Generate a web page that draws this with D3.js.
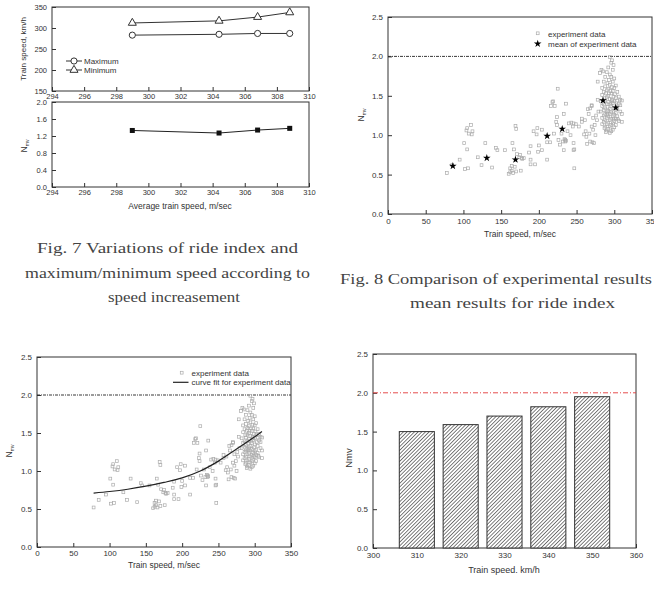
<!DOCTYPE html>
<html>
<head>
<meta charset="utf-8">
<script src="https://cdn.jsdelivr.net/npm/d3@7"></script>
<style>
  body { margin: 0; background: #fff; }
  svg { display: block; }
</style>
</head>
<body>
<script>
// Fig. 7 data
const avgSpeed = [299, 304.4, 306.8, 308.8];
const maxSpeed = [283, 285, 287, 287];
const minSpeed = [312, 317, 326, 337];
const rideIndex = [1.33, 1.27, 1.34, 1.38];

// Fig. 8 / fit chart data: [train speed m/sec, Nmv]
const expData = [
  [78,0.52],[85,0.62],[95,0.69],[101,0.90],[105,0.82],[102,0.57],[106,0.58],[105,1.09],[110,1.13],
  [107,1.02],[112,1.05],[111,1.01],[104,1.06],[119,0.72],[124,0.62],[129,0.90],[138,0.59],[143,0.84],
  [145,0.81],[155,0.81],[160,0.51],[162,0.53],[164,0.55],[166,0.52],[170,0.54],[176,0.55],[162,0.58],
  [164,0.61],[165,0.90],[167,0.82],[169,1.12],[170,1.08],[171,0.76],[177,0.71],[174,0.72],[178,0.70],
  [168,0.60],[175,0.75],[180,0.71],
  [187,0.78],[189,0.86],[189,0.69],[189,0.63],[195,0.63],[193,1.05],[197,1.01],[198,1.09],[199,0.79],
  [200,0.87],[204,1.07],[204,0.81],[211,0.69],[211,0.91],[215,0.91],[216,1.37],[219,1.43],[218,1.42],
  [220,1.02],[221,1.37],[225,1.59],[224,1.23],[224,1.13],[223,1.17],[226,0.94],[232,0.92],[234,0.95],
  [236,0.93],[233,1.27],[236,1.40],[233,0.81],[235,0.94],[240,1.15],[243,1.16],[245,1.11],
  [246,1.15],[246,0.90],[247,0.82],[247,0.58],[249,1.14],[238,1.05],[242,1.00],[230,1.02],[228,0.88],
  [246,0.81],[235,0.92],
  [253,1.11],[257,1.21],[260,1.01],[261,1.19],[257,1.17],[262,1.05],[264,0.89],[266,1.27],[268,1.34],
  [268,0.92],[270,1.37],[270,1.11],[272,1.22],[272,1.07],[273,0.90],[271,0.91],[274,1.13],[277,1.19],
  [265,1.33],[270,1.38],[263,0.98],[267,1.02],[275,1.00],[276,1.25],[278,1.68],[281,1.79],[283,1.83],
  [285,1.81],[279,1.30],[278,1.45],
  [294,1.99],[297,1.95],[299,1.89],[296,1.92],[292,1.86],[298,1.83],[290,1.80],[294,1.77],[288,1.74],
  [296,1.74],[300,1.72],[293,1.70],[286,1.68],[298,1.68],[291,1.66],[294,1.64],[302,1.63],[288,1.62],
  [297,1.61],[284,1.60],[292,1.59],[300,1.60],[290,1.57],[298,1.56],[286,1.55],[295,1.56],[304,1.55],
  [289,1.53],[296,1.53],[301,1.52],[284,1.51],[292,1.50],[306,1.49],[290,1.48],[299,1.49],[302,1.47],
  [287,1.47],[294,1.46],[288,1.44],[297,1.45],[304,1.44],[310,1.44],[282,1.43],[292,1.42],[300,1.43],
  [290,1.40],[298,1.41],[306,1.40],[286,1.39],[295,1.39],[303,1.38],[284,1.37],[291,1.36],[296,1.37],
  [300,1.35],[288,1.34],[294,1.33],[304,1.33],[286,1.32],[292,1.31],[299,1.31],[282,1.30],[290,1.29],
  [296,1.29],[302,1.28],[308,1.30],[288,1.27],[294,1.27],[300,1.26],[286,1.25],[292,1.24],[298,1.24],
  [304,1.24],[284,1.22],[290,1.22],[296,1.21],[302,1.21],[288,1.19],[294,1.19],[300,1.18],[306,1.18],
  [286,1.17],[292,1.16],[298,1.15],[284,1.14],[290,1.14],[296,1.13],[302,1.13],[288,1.11],[294,1.11],
  [300,1.10],[287,1.09],[292,1.08],[298,1.07],[290,1.06],[296,1.05],[294,1.03],[289,1.04],[305,1.20],
  [310,1.27],[308,1.38],[310,1.17],[308,1.45],[293,1.53],[297,1.43],[291,1.27],[299,1.20]
];
const meanData = [[86,0.61],[131,0.71],[169,0.69],[211,0.99],[231,1.08],[285,1.44],[302,1.35]];
const fitCurve = [[78,0.71],[100,0.73],[125,0.76],[150,0.80],[175,0.85],[200,0.91],[225,1.00],
  [250,1.13],[275,1.29],[300,1.45],[310,1.52]];

// bar chart data
const barSpeed = [310, 320, 330, 340, 350];
const barNmv = [1.50, 1.59, 1.70, 1.82, 1.95];

const limitNmv = 2.0;
const font = "'Liberation Sans', Arial, sans-serif";

const svg = d3.select("body").append("svg")
  .attr("width", 654).attr("height", 591)
  .attr("font-family", font);

svg.append("rect").attr("width", 654).attr("height", 591).attr("fill", "#fff");

const defs = svg.append("defs");
const hatch = defs.append("pattern")
  .attr("id", "hatch")
  .attr("patternUnits", "userSpaceOnUse")
  .attr("width", 2.6).attr("height", 2.6)
  .attr("patternTransform", "rotate(45)");
hatch.append("rect").attr("width", 2.6).attr("height", 2.6).attr("fill", "#fff");
hatch.append("line").attr("x1", 0).attr("y1", 0).attr("x2", 0).attr("y2", 2.6)
  .attr("stroke", "#3a3a3a").attr("stroke-width", 1.3);

// frame + inward ticks, Origin style
function axes(x, y, o) {
  const g = svg.append("g");
  const [x0, x1] = x.range();
  const [y0, y1] = y.range();

  const bx = g.append("g").attr("transform", `translate(0,${y0})`);
  bx.call(d3.axisBottom(x).tickValues(o.xMinor || []).tickSize(-2).tickFormat(""));
  bx.call(d3.axisBottom(x).tickValues(o.xMajor).tickSizeInner(-4).tickSizeOuter(0)
    .tickPadding(o.xPad || 4).tickFormat(o.xFmt || d3.format("d")));

  const ly = g.append("g").attr("transform", `translate(${x0},0)`);
  ly.call(d3.axisLeft(y).tickValues(o.yMinor || []).tickSize(-2).tickFormat(""));
  ly.call(d3.axisLeft(y).tickValues(o.yMajor).tickSizeInner(-4).tickSizeOuter(0)
    .tickPadding(o.yPad || 5).tickFormat(o.yFmt || d3.format(".1f")));

  g.selectAll(".domain").remove();
  g.selectAll(".tick line").attr("stroke", "#333");
  g.selectAll("text").attr("font-size", o.fs || 8).attr("font-family", font).attr("fill", "#333");

  g.append("rect")
    .attr("x", x0).attr("y", y1)
    .attr("width", x1 - x0).attr("height", y0 - y1)
    .attr("fill", "none").attr("stroke", "#333").attr("stroke-width", 1);
  return g;
}

function label(x, y, txt, size, rotate) {
  const t = svg.append("text")
    .attr("transform", `translate(${x},${y})` + (rotate ? " rotate(-90)" : ""))
    .attr("text-anchor", "middle")
    .attr("font-size", size).attr("fill", "#333");
  t.text(txt);
  return t;
}

function nmvLabel(x, y, size) {
  const t = svg.append("text")
    .attr("transform", `translate(${x},${y}) rotate(-90)`)
    .attr("text-anchor", "middle")
    .attr("font-size", size).attr("fill", "#333");
  t.append("tspan").text("N");
  t.append("tspan").attr("font-size", size * 0.6).attr("dy", 2).text("mv");
}

function caption(lines) {
  lines.forEach(l => {
    svg.append("text")
      .attr("x", l.x).attr("y", l.y)
      .attr("font-family", "'Liberation Serif', 'DejaVu Serif', serif")
      .attr("font-size", 15).attr("fill", "#444")
      .attr("textLength", l.w).attr("lengthAdjust", "spacingAndGlyphs")
      .text(l.t);
  });
}

function symbol(type, size) {
  return d3.symbol().type(type).size(size)();
}

// ---------- Fig. 7 top: max / min speed ----------
const x7 = d3.scaleLinear().domain([294, 310]).range([52, 309]);
const y7a = d3.scaleLinear().domain([150, 350]).range([91, 7]);
const y7b = d3.scaleLinear().domain([0, 2.0]).range([187, 102]);
const x7ticks = d3.range(294, 311, 2);

axes(x7, y7a, { xMajor: x7ticks, yMajor: [150, 200, 250, 300, 350], yMinor: [175, 225, 275, 325],
  yFmt: d3.format("d"), xPad: 3, fs: 7.5 });
axes(x7, y7b, { xMajor: x7ticks, yMajor: [0, 0.4, 0.8, 1.2, 1.6, 2.0], yMinor: [0.2, 0.6, 1.0, 1.4, 1.8],
  xPad: 3, fs: 7.5 });

const line7 = (ys, yS) => d3.line().x((d, i) => x7(avgSpeed[i])).y(d => yS(d))(ys);

svg.append("path").attr("d", line7(maxSpeed, y7a)).attr("fill", "none").attr("stroke", "#333");
svg.append("path").attr("d", line7(minSpeed, y7a)).attr("fill", "none").attr("stroke", "#333");
svg.append("g").selectAll("path").data(maxSpeed).join("path")
  .attr("transform", (d, i) => `translate(${x7(avgSpeed[i])},${y7a(d)})`)
  .attr("d", symbol(d3.symbolCircle, 30)).attr("fill", "#fff").attr("stroke", "#333");
svg.append("g").selectAll("path").data(minSpeed).join("path")
  .attr("transform", (d, i) => `translate(${x7(avgSpeed[i])},${y7a(d)})`)
  .attr("d", symbol(d3.symbolTriangle, 28)).attr("fill", "#fff").attr("stroke", "#333");

svg.append("path").attr("d", line7(rideIndex, y7b)).attr("fill", "none").attr("stroke", "#222");
svg.append("g").selectAll("rect").data(rideIndex).join("rect")
  .attr("x", (d, i) => x7(avgSpeed[i]) - 2.5).attr("y", d => y7b(d) - 2.5)
  .attr("width", 5).attr("height", 5).attr("fill", "#111");

// legend
const leg7 = [{ t: "Maximum", s: d3.symbolCircle, y: 61, sz: 30 }, { t: "Minimum", s: d3.symbolTriangle, y: 70, sz: 28 }];
leg7.forEach(l => {
  svg.append("line").attr("x1", 66).attr("x2", 82).attr("y1", l.y).attr("y2", l.y).attr("stroke", "#333");
  svg.append("path").attr("transform", `translate(74,${l.y})`).attr("d", symbol(l.s, l.sz))
    .attr("fill", "#fff").attr("stroke", "#333");
  svg.append("text").attr("x", 84).attr("y", l.y + 3).attr("font-size", 8).attr("fill", "#333").text(l.t);
});

label(26, 49, "Train speed, km/h", 8, true);
nmvLabel(27, 146, 8.5);
label(180, 209, "Average train speed, m/sec", 8.5);

caption([
  { t: "Fig. 7 Variations of ride index and", x: 37, y: 253, w: 261 },
  { t: "maximum/minimum speed according to", x: 25, y: 278, w: 285 },
  { t: "speed increasement", x: 108, y: 302, w: 132 }
]);

// ---------- shared scatter drawing ----------
function scatter(x, y) {
  svg.append("g").selectAll("rect").data(expData).join("rect")
    .attr("x", d => x(d[0]) - 1.4).attr("y", d => y(d[1]) - 1.4)
    .attr("width", 2.8).attr("height", 2.8)
    .attr("fill", "none").attr("stroke", "#ababab").attr("stroke-width", 0.7);
}

function limitLine(x, y, color, dash) {
  svg.append("line")
    .attr("x1", x.range()[0]).attr("x2", x.range()[1])
    .attr("y1", y(limitNmv)).attr("y2", y(limitNmv))
    .attr("stroke", color).attr("stroke-width", 0.9).attr("stroke-dasharray", dash);
}

const nmvTicks = [0, 0.5, 1.0, 1.5, 2.0, 2.5];
const nmvMinor = [0.25, 0.75, 1.25, 1.75, 2.25];
const speedTicks = d3.range(0, 351, 50);
const speedMinor = d3.range(25, 350, 50);

// ---------- Fig. 8: experiment vs mean ----------
const x8 = d3.scaleLinear().domain([0, 350]).range([388, 652]);
const y8 = d3.scaleLinear().domain([0, 2.5]).range([214, 17]);
axes(x8, y8, { xMajor: speedTicks, xMinor: speedMinor, yMajor: nmvTicks, yMinor: nmvMinor, xPad: 4 });
limitLine(x8, y8, "#222", "3,1,1,1");
scatter(x8, y8);
svg.append("g").selectAll("path").data(meanData).join("path")
  .attr("transform", d => `translate(${x8(d[0])},${y8(d[1])})`)
  .attr("d", symbol(d3.symbolStar, 18)).attr("fill", "#000");

svg.append("rect").attr("x", 536.3).attr("y", 31.9).attr("width", 2.8).attr("height", 2.8)
  .attr("fill", "none").attr("stroke", "#ababab").attr("stroke-width", 0.7);
svg.append("text").attr("x", 548).attr("y", 36.5).attr("font-size", 8).attr("fill", "#333").text("experiment data");
svg.append("path").attr("transform", "translate(537.7,43.7)").attr("d", symbol(d3.symbolStar, 18)).attr("fill", "#000");
svg.append("text").attr("x", 548).attr("y", 46.5).attr("font-size", 8).attr("fill", "#333").text("mean of experiment data");

nmvLabel(364, 115, 8.5);
label(520, 237, "Train speed, m/sec", 8.5);

caption([
  { t: "Fig. 8 Comparison of experimental results", x: 340, y: 284, w: 312 },
  { t: "mean results for ride index", x: 410, y: 308, w: 205 }
]);

// ---------- curve fit chart ----------
const x9 = d3.scaleLinear().domain([0, 350]).range([37, 291]);
const y9 = d3.scaleLinear().domain([0, 2.5]).range([547, 357]);
axes(x9, y9, { xMajor: speedTicks, xMinor: speedMinor, yMajor: nmvTicks, yMinor: nmvMinor, xPad: 3.5 });
limitLine(x9, y9, "#222", "3,1,1,1");
scatter(x9, y9);
svg.append("path")
  .attr("d", d3.line().curve(d3.curveMonotoneX).x(d => x9(d[0])).y(d => y9(d[1]))(fitCurve))
  .attr("fill", "none").attr("stroke", "#222").attr("stroke-width", 1.2);

svg.append("rect").attr("x", 180.3).attr("y", 371.3).attr("width", 2.8).attr("height", 2.8)
  .attr("fill", "none").attr("stroke", "#ababab").attr("stroke-width", 0.7);
svg.append("text").attr("x", 191.5).attr("y", 375.5).attr("font-size", 8).attr("fill", "#333").text("experiment data");
svg.append("line").attr("x1", 173).attr("x2", 188.5).attr("y1", 382.3).attr("y2", 382.3)
  .attr("stroke", "#222").attr("stroke-width", 1.2);
svg.append("text").attr("x", 191.5).attr("y", 385.3).attr("font-size", 8).attr("fill", "#333").text("curve fit for experiment data");

nmvLabel(12, 451, 8.5);
label(164, 568, "Train speed, m/sec", 8.5);

// ---------- bar chart ----------
const xb = d3.scaleLinear().domain([300, 360]).range([373, 636]);
const yb = d3.scaleLinear().domain([0, 2.5]).range([548, 354]);
axes(xb, yb, { xMajor: d3.range(300, 361, 10), xMinor: d3.range(305, 360, 10),
  yMajor: nmvTicks, yMinor: nmvMinor, xPad: 4 });
limitLine(xb, yb, "#e23a3a", "5,2,1,2");
svg.append("g").selectAll("rect").data(barNmv).join("rect")
  .attr("x", (d, i) => xb(barSpeed[i] - 4))
  .attr("width", (d, i) => xb(barSpeed[i] + 4) - xb(barSpeed[i] - 4))
  .attr("y", d => yb(d)).attr("height", d => yb(0) - yb(d))
  .attr("fill", "url(#hatch)").attr("stroke", "#333").attr("stroke-width", 1);

label(352, 458, "Nmv", 9.5, true);
label(504, 573, "Train speed. km/h", 9);
</script>
</body>
</html>
